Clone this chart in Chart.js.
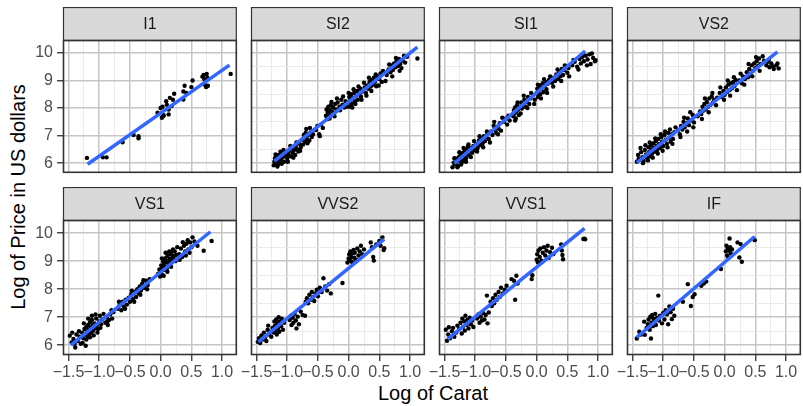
<!DOCTYPE html>
<html>
<head>
<meta charset="utf-8">
<script src="https://cdn.jsdelivr.net/npm/chart.js@4.4.1/dist/chart.umd.min.js"></script>
<style>
  body { margin: 0; width: 803px; height: 406px; background: #fff; position: relative; overflow: hidden;
         font-family: "Liberation Sans", Arial, sans-serif; }
  canvas { position: absolute; }
  .ttl { position: absolute; font-size: 20px; line-height: 20px; color: #000; white-space: nowrap; }
</style>
</head>
<body>
<div class="ttl" id="xTitle" style="left:433px;top:383px;transform:translateX(-50%)">Log of Carat</div>
<div class="ttl" id="yTitle" style="left:18px;top:197px;transform:translate(-50%,-50%) rotate(-90deg)">Log of Price in US dollars</div>
<script>
// facet labels (diamond clarity)
const clarity = ['I1', 'SI2', 'SI1', 'VS2', 'VS1', 'VVS2', 'VVS1', 'IF'];

// [log carat, log price]
const ptsI1 = [[-1.20,6.19],[-0.94,6.21],[-0.88,6.21],[-0.62,6.76],[-0.44,7.02],[-0.36,6.98],[-0.36,6.90],
  [-0.05,7.83],[0.00,8.00],[0.02,7.65],[0.04,7.70],[0.05,7.74],[0.03,8.05],[0.09,8.25],[0.10,8.12],[0.13,7.77],
  [0.15,8.37],[0.13,7.95],[0.18,8.07],[0.22,8.52],[0.20,8.30],[0.37,8.60],[0.39,8.81],[0.37,8.31],[0.42,8.55],
  [0.52,9.00],[0.50,8.76],[0.68,9.14],[0.70,9.20],[0.75,9.24],[0.72,8.85],[0.77,8.81],[0.74,8.76],[0.71,9.05],
  [0.76,9.10],[1.14,9.24]];

const ptsSI2 = [[-1.22,5.92],[-1.21,6.05],[-1.20,6.18],[-1.20,5.98],[-1.19,6.10],[-1.18,6.25],[-1.17,6.02],[-1.16,6.14],
  [-1.15,5.95],[-1.14,6.30],[-1.13,6.08],[-1.12,6.20],[-1.10,6.12],[-1.08,6.35],[-1.07,6.22],[-1.05,6.05],[-1.04,6.28],
  [-1.02,6.40],[-1.00,6.18],[-0.98,6.32],[-0.96,6.45],[-0.94,6.25],[-0.92,6.55],[-0.91,6.38],[-0.89,6.48],[-0.87,6.30],
  [-0.86,6.62],[-0.84,6.50],[-0.82,6.42],[-0.80,6.70],[-0.78,6.58],[-0.76,6.85],[-0.74,6.68],[-0.72,6.95],[-0.71,6.78],
  [-0.70,7.10],[-0.69,7.24],[-0.68,6.88],[-0.66,7.02],[-0.64,6.82],[-0.62,7.12],[-0.60,6.95],[-0.53,7.20],[-0.51,7.35],
  [-0.48,7.05],[-0.47,6.98],[-0.45,7.40],[-0.42,7.28],[-0.37,7.72],[-0.36,7.95],[-0.35,7.60],[-0.34,7.85],[-0.33,8.05],
  [-0.32,7.78],[-0.30,7.92],[-0.29,8.10],[-0.27,7.88],[-0.25,8.02],[-0.23,7.70],[-0.22,8.15],[-0.20,7.95],[-0.18,8.20],
  [-0.15,8.05],[-0.12,8.30],[-0.10,8.12],[-0.07,8.02],[-0.05,8.25],[0.00,8.20],[0.01,8.40],[0.02,8.05],[0.03,8.30],
  [0.04,8.50],[0.05,8.15],[0.07,8.38],[0.09,8.55],[0.10,8.25],[0.12,8.45],[0.14,8.62],[0.15,8.30],[0.17,8.50],[0.19,8.70],
  [0.20,8.42],[0.22,8.60],[0.26,8.75],[0.28,8.55],[0.30,8.82],[0.32,8.70],[0.34,8.95],[0.36,8.78],[0.38,9.02],[0.40,8.85],
  [0.41,9.10],[0.43,8.95],[0.45,8.79],[0.47,9.15],[0.50,9.05],[0.52,9.26],[0.54,8.95],[0.62,9.20],[0.65,9.40],[0.68,9.30],
  [0.70,9.55],[0.72,9.38],[0.74,9.62],[0.76,9.48],[0.78,9.70],[0.80,9.52],[0.82,9.78],[0.84,9.60],[0.86,9.45],[0.88,9.72],
  [0.92,9.65],[0.95,9.86],[1.12,9.80],
  [-1.19,6.32],[-1.16,5.88],[-1.11,6.42],[-1.09,5.98],[-1.06,6.48],[-0.99,6.05],[-0.95,6.62],[-0.90,6.20],[-0.85,6.75],
  [-0.79,6.45],[-0.73,7.02],[-0.67,6.72],[-0.63,7.28],[-0.58,7.05],[-0.31,7.62],[-0.28,8.22],[-0.24,7.80],[-0.19,8.35],
  [-0.14,7.92],[-0.09,8.42],[-0.03,8.05],[0.00,8.55],[0.06,8.02],[0.08,8.68],[0.11,8.15],[0.16,8.78],[0.21,8.30],
  [0.25,8.92],[0.29,8.45],[0.33,9.10],[0.37,8.62],[0.44,9.22],[0.49,8.82],[0.56,9.35],[0.60,8.98],[0.66,9.58],[0.71,9.15],
  [0.77,9.82],[0.83,9.35],[0.90,9.90]];

const ptsSI1 = [[-1.37,5.85],[-1.35,6.02],[-1.33,5.95],[-1.31,6.15],[-1.30,6.05],[-1.28,5.90],[-1.27,6.22],[-1.25,6.10],
  [-1.24,6.30],[-1.22,6.02],[-1.21,6.18],[-1.20,6.38],[-1.19,6.25],[-1.18,6.08],[-1.17,6.42],[-1.16,6.30],[-1.15,6.18],
  [-1.14,6.50],[-1.13,6.35],[-1.12,6.60],[-1.10,6.28],[-1.08,6.45],[-1.06,6.55],[-1.05,6.38],[-1.03,6.62],[-1.01,6.48],
  [-0.98,6.70],[-0.96,6.55],[-0.94,6.82],[-0.92,6.66],[-0.90,6.90],[-0.88,6.72],[-0.86,6.98],[-0.84,6.80],[-0.82,6.95],
  [-0.80,7.08],[-0.78,6.88],[-0.74,7.15],[-0.72,7.02],[-0.70,7.36],[-0.68,7.20],[-0.66,7.10],[-0.64,7.32],[-0.62,7.25],
  [-0.60,7.45],[-0.58,7.18],[-0.53,7.50],[-0.50,7.62],[-0.48,7.40],[-0.46,7.72],[-0.44,7.55],[-0.38,7.70],[-0.37,7.92],
  [-0.36,7.80],[-0.35,8.02],[-0.34,7.62],[-0.33,7.88],[-0.32,8.10],[-0.30,7.95],[-0.29,7.75],[-0.27,8.05],[-0.25,8.20],
  [-0.24,7.98],[-0.22,8.12],[-0.20,8.30],[-0.18,8.05],[-0.16,8.22],[-0.14,8.40],[-0.12,8.15],[-0.10,8.35],[-0.06,8.48],
  [-0.03,8.30],[0.00,8.55],[0.01,8.70],[0.02,8.40],[0.03,8.62],[0.05,8.82],[0.06,8.50],[0.08,8.72],[0.10,8.90],[0.11,8.58],
  [0.13,8.80],[0.15,8.95],[0.16,8.68],[0.18,8.88],[0.20,9.02],[0.25,8.92],[0.28,9.10],[0.30,8.98],[0.32,9.22],[0.35,9.05],
  [0.37,9.30],[0.39,9.15],[0.41,9.42],[0.43,9.20],[0.45,9.38],[0.48,9.50],[0.50,9.28],[0.52,9.45],[0.58,9.55],[0.62,9.68],
  [0.66,9.50],[0.70,9.78],[0.72,9.62],[0.74,9.85],[0.77,9.70],[0.80,9.90],[0.83,9.76],[0.86,9.95],[0.88,9.60],[0.92,9.82],
  [0.95,9.70],[0.96,9.74],
  [-1.34,6.18],[-1.29,5.85],[-1.26,6.40],[-1.23,5.95],[-1.19,6.55],[-1.15,6.05],[-1.11,6.68],[-1.07,6.22],[-1.02,6.80],
  [-0.97,6.42],[-0.93,6.98],[-0.87,6.58],[-0.81,7.15],[-0.76,6.75],[-0.69,7.50],[-0.63,7.05],[-0.56,7.65],[-0.35,7.55],
  [-0.31,8.20],[-0.26,7.80],[-0.21,8.45],[-0.15,8.00],[-0.09,8.55],[-0.04,8.15],[0.02,8.85],[0.07,8.35],[0.12,9.05],
  [0.17,8.55],[0.22,9.15],[0.27,8.78],[0.34,9.40],[0.40,8.98],[0.46,9.55],[0.53,9.15],[0.60,9.75],[0.68,9.40],[0.75,9.95],
  [0.82,9.55],[0.90,9.98]];

const ptsVS2 = [[-1.43,6.05],[-1.41,6.30],[-1.38,6.12],[-1.36,6.40],[-1.34,6.22],[-1.32,6.08],[-1.30,6.48],[-1.28,6.32],
  [-1.26,6.18],[-1.24,6.58],[-1.23,6.40],[-1.21,6.25],[-1.20,6.65],[-1.19,6.50],[-1.18,6.35],[-1.16,6.72],[-1.15,6.55],
  [-1.14,6.42],[-1.12,6.80],[-1.11,6.62],[-1.10,6.48],[-1.08,6.88],[-1.07,6.70],[-1.05,6.55],[-1.03,6.95],[-1.02,6.78],
  [-1.00,6.62],[-0.98,7.02],[-0.96,6.85],[-0.94,6.70],[-0.92,7.10],[-0.90,6.92],[-0.88,6.78],[-0.86,7.05],[-0.84,6.88],
  [-0.82,7.12],[-0.76,7.20],[-0.73,7.05],[-0.71,7.35],[-0.69,7.22],[-0.67,7.50],[-0.65,7.30],[-0.62,7.45],[-0.60,7.62],
  [-0.58,7.38],[-0.55,7.55],[-0.52,7.75],[-0.50,7.48],[-0.44,7.70],[-0.40,7.88],[-0.38,7.78],[-0.36,8.05],[-0.35,7.90],
  [-0.33,8.15],[-0.31,7.95],[-0.29,8.22],[-0.27,8.05],[-0.25,8.35],[-0.23,8.12],[-0.21,8.42],[-0.19,8.20],[-0.17,8.30],
  [-0.12,8.38],[-0.08,8.55],[-0.05,8.40],[-0.02,8.62],[0.00,8.48],[0.02,8.75],[0.04,8.58],[0.06,8.85],[0.08,8.65],
  [0.10,8.90],[0.12,8.72],[0.14,8.95],[0.16,8.80],[0.18,9.02],[0.24,9.00],[0.28,8.90],[0.30,9.15],[0.33,9.05],[0.36,9.30],
  [0.38,9.12],[0.40,9.42],[0.42,9.25],[0.44,9.55],[0.46,9.35],[0.48,9.62],[0.50,9.45],[0.52,9.70],[0.54,9.52],[0.56,9.80],
  [0.58,9.60],[0.64,9.72],[0.68,9.55],[0.70,9.68],[0.73,9.48],[0.76,9.62],[0.80,9.42],[0.84,9.55],[0.88,9.44],
  [-1.40,6.15],[-1.37,6.55],[-1.33,6.00],[-1.29,6.65],[-1.25,6.10],[-1.22,6.75],[-1.17,6.20],[-1.13,6.90],[-1.09,6.35],
  [-1.04,7.05],[-1.01,6.45],[-0.97,7.15],[-0.93,6.58],[-0.89,7.22],[-0.85,6.70],[-0.80,7.30],[-0.72,6.95],[-0.66,7.65],
  [-0.61,7.15],[-0.56,7.85],[-0.51,7.30],[-0.37,7.60],[-0.32,8.35],[-0.26,7.85],[-0.20,8.55],[-0.14,8.10],[-0.07,8.75],
  [-0.01,8.30],[0.05,9.00],[0.09,8.45],[0.15,9.12],[0.20,8.65],[0.26,9.25],[0.32,8.85],[0.39,9.60],[0.45,9.15],[0.51,9.85],
  [0.57,9.35],[0.62,9.88],[0.72,9.75],[0.78,9.52],[0.86,9.62]];

const ptsVS1 = [[-1.48,6.34],[-1.45,6.10],[-1.42,6.22],[-1.39,5.92],[-1.37,6.38],[-1.35,6.15],[-1.32,6.30],[-1.30,6.05],
  [-1.28,6.45],[-1.26,6.25],[-1.24,6.58],[-1.23,6.38],[-1.22,5.98],[-1.21,6.65],[-1.20,6.48],[-1.19,6.30],[-1.18,6.72],
  [-1.17,6.55],[-1.16,6.40],[-1.15,6.82],[-1.14,6.62],[-1.13,6.45],[-1.12,6.90],[-1.11,6.70],[-1.10,6.52],[-1.08,6.78],
  [-1.07,6.60],[-1.05,6.95],[-1.04,6.72],[-1.02,6.58],[-1.00,6.85],[-0.99,7.05],[-0.97,6.75],[-0.95,6.92],[-0.90,6.80],
  [-0.88,7.00],[-0.86,6.72],[-0.84,6.90],[-0.82,7.10],[-0.79,6.95],[-0.77,7.18],[-0.70,7.30],[-0.67,7.42],[-0.64,7.25],
  [-0.62,7.55],[-0.60,7.38],[-0.57,7.62],[-0.55,7.45],[-0.52,7.70],[-0.50,7.55],[-0.48,7.82],[-0.45,7.65],[-0.42,7.90],
  [-0.40,7.72],[-0.38,8.00],[-0.36,7.85],[-0.34,8.10],[-0.32,7.95],[-0.30,8.20],[-0.27,8.05],[-0.24,8.30],[-0.21,8.15],
  [-0.18,8.36],[-0.04,8.55],[-0.02,8.70],[0.00,8.62],[0.01,8.85],[0.02,8.52],[0.03,8.78],[0.04,9.00],[0.05,8.68],
  [0.06,8.92],[0.07,9.10],[0.08,8.80],[0.09,9.02],[0.10,8.72],[0.11,9.18],[0.12,8.95],[0.13,9.25],[0.14,8.88],[0.15,9.08],
  [0.17,9.30],[0.18,9.00],[0.19,9.20],[0.21,9.12],[0.23,9.35],[0.25,9.22],[0.30,9.25],[0.33,9.45],[0.35,9.15],[0.38,9.55],
  [0.40,9.35],[0.42,9.62],[0.45,9.42],[0.48,9.67],[0.50,9.50],[0.52,9.85],[0.60,9.55],[0.70,9.37],[0.83,9.72],
  [-1.44,6.45],[-1.40,6.05],[-1.33,6.50],[-1.27,6.08],[-1.25,6.78],[-1.21,6.20],[-1.18,6.95],[-1.15,6.28],[-1.12,7.05],
  [-1.09,6.35],[-1.06,7.10],[-1.03,6.45],[-0.98,6.62],[-0.93,7.12],[-0.87,6.85],[-0.80,7.25],[-0.68,7.55],[-0.58,7.30],
  [-0.47,7.95],[-0.43,7.55],[-0.33,7.80],[-0.28,8.32],[-0.22,8.00],[-0.01,8.45],[0.02,9.10],[0.05,8.48],[0.08,9.30],
  [0.11,8.62],[0.14,9.35],[0.17,8.80],[0.20,9.42],[0.24,9.00],[0.27,9.50],[0.31,9.05],[0.36,9.68],[0.41,9.20],[0.44,9.75],
  [0.47,9.30],[0.55,9.70]];

const ptsVVS2 = [[-1.48,6.12],[-1.46,6.25],[-1.44,6.08],[-1.42,6.35],[-1.40,6.20],[-1.38,6.45],[-1.36,6.28],[-1.34,6.15],
  [-1.32,6.55],[-1.31,6.70],[-1.30,6.38],[-1.28,6.48],[-1.26,6.30],[-1.24,6.62],[-1.22,6.45],[-1.21,6.85],[-1.20,6.70],
  [-1.19,6.52],[-1.18,6.92],[-1.17,6.38],[-1.16,6.78],[-1.15,6.60],[-1.14,7.00],[-1.13,6.48],[-1.12,6.85],[-1.10,6.68],
  [-1.09,6.95],[-1.07,6.55],[-1.05,6.80],[-0.96,6.90],[-0.94,7.05],[-0.93,6.72],[-0.91,6.98],[-0.90,6.80],[-0.88,7.12],
  [-0.86,6.88],[-0.85,6.60],[-0.83,7.02],[-0.81,6.75],[-0.78,7.20],[-0.75,7.08],[-0.71,7.05],[-0.70,7.55],[-0.68,7.68],
  [-0.66,7.50],[-0.64,7.80],[-0.62,7.62],[-0.60,7.90],[-0.58,7.72],[-0.56,7.58],[-0.54,7.85],[-0.52,7.98],[-0.50,7.75],
  [-0.47,8.05],[-0.44,7.90],[-0.41,8.39],[-0.38,8.10],[-0.35,7.95],[-0.32,8.18],[-0.29,7.85],[-0.10,8.22],[-0.02,8.95],
  [0.00,9.10],[0.01,9.25],[0.02,9.02],[0.03,9.35],[0.04,9.15],[0.05,8.98],[0.06,9.28],[0.08,9.40],[0.09,9.12],[0.10,9.30],
  [0.12,9.05],[0.14,9.45],[0.16,9.20],[0.18,9.35],[0.20,9.55],[0.22,9.25],[0.25,9.42],[0.36,9.67],[0.38,9.50],[0.40,9.15],
  [0.41,9.02],[0.45,9.60],[0.50,9.72],[0.52,9.55],[0.55,9.85],[0.57,9.40],[0.58,9.46]];

const ptsVVS1 = [[-1.48,6.55],[-1.46,6.16],[-1.44,6.38],[-1.43,6.64],[-1.41,6.25],[-1.38,6.50],[-1.36,6.62],[-1.34,6.30],
  [-1.31,6.45],[-1.29,6.70],[-1.26,6.58],[-1.24,6.80],[-1.22,6.42],[-1.21,6.95],[-1.20,6.65],[-1.18,6.85],[-1.17,6.52],
  [-1.16,7.05],[-1.14,6.72],[-1.13,6.90],[-1.11,6.60],[-1.09,6.98],[-1.07,6.75],[-1.05,6.88],[-1.03,6.65],[-0.97,6.95],
  [-0.95,7.10],[-0.93,6.80],[-0.91,7.02],[-0.89,6.88],[-0.87,7.15],[-0.85,6.92],[-0.83,7.08],[-0.81,7.77],[-0.80,6.78],
  [-0.78,7.17],[-0.75,7.55],[-0.73,7.40],[-0.71,7.68],[-0.69,7.50],[-0.67,7.80],[-0.65,7.62],[-0.62,7.90],[-0.60,7.72],
  [-0.58,8.05],[-0.55,7.85],[-0.52,7.98],[-0.49,8.12],[-0.41,8.36],[-0.37,8.30],[-0.35,7.62],[-0.33,8.48],[-0.31,8.20],
  [-0.08,8.36],[-0.07,8.50],[0.00,9.05],[0.01,9.25],[0.02,8.96],[0.03,9.38],[0.05,9.15],[0.06,9.45],[0.08,9.02],[0.10,9.30],
  [0.12,9.50],[0.14,9.20],[0.16,9.38],[0.18,9.55],[0.20,9.12],[0.22,9.32],[0.25,9.48],[0.27,9.25],[0.40,9.60],[0.41,9.38],
  [0.42,9.22],[0.43,9.07],[0.76,9.79],[0.78,9.80],[0.79,9.78]];

const ptsIF = [[-1.43,6.24],[-1.39,6.48],[-1.36,6.38],[-1.31,6.84],[-1.30,6.37],[-1.27,6.62],[-1.25,6.75],[-1.24,6.92],
  [-1.22,6.55],[-1.21,7.02],[-1.20,6.24],[-1.19,6.80],[-1.18,7.08],[-1.17,6.68],[-1.16,6.95],[-1.15,6.85],[-1.13,7.12],
  [-1.12,6.72],[-1.10,6.98],[-1.08,7.77],[-1.07,6.88],[-1.05,7.05],[-1.02,6.78],[-1.00,7.15],[-0.98,6.92],[-0.96,7.25],
  [-0.94,7.10],[-0.92,6.75],[-0.90,7.38],[-0.88,7.18],[-0.86,6.93],[-0.84,7.30],[-0.82,7.05],[-0.68,7.55],[-0.60,8.18],
  [-0.55,7.40],[-0.52,7.72],[-0.49,7.82],[-0.38,8.12],[-0.34,8.20],[-0.30,8.27],[-0.06,8.72],[0.02,9.35],[0.03,9.55],
  [0.04,9.20],[0.05,9.45],[0.06,9.13],[0.07,9.38],[0.08,9.81],[0.09,9.50],[0.10,9.28],[0.12,9.42],[0.21,9.67],[0.24,9.13],
  [0.26,9.61],[0.28,8.98],[0.49,9.75]];

const panelPts = [ptsI1, ptsSI2, ptsSI1, ptsVS2, ptsVS1, ptsVVS2, ptsVVS1, ptsIF];

// fitted line ends per panel (lm smooth)
const fitX = [[-1.19,1.12],[-1.21,1.12],[-1.34,0.79],[-1.43,0.86],[-1.46,0.81],[-1.47,0.58],[-1.45,0.78],[-1.43,0.49]];
const fitY = [[5.96,9.56],[6.07,10.21],[5.99,10.07],[6.02,10.04],[6.00,10.05],[6.12,9.79],[6.22,10.17],[6.28,9.88]];

// axes
const xMajor = [-1.5, -1.0, -0.5, 0.0, 0.5, 1.0];
const xMinor = [-1.25, -0.75, -0.25, 0.25, 0.75];
const yMajor = [6, 7, 8, 9, 10];
const yMinor = [6.5, 7.5, 8.5, 9.5];

const FONT = '"Liberation Sans", Arial, sans-serif';
const colLeft = [63, 251, 439, 627];
const panelW = 176, stripH = 33, plotH = 135, xAxisH = 30;
const stripTop = [7, 187];

const isMajorX = v => xMajor.includes(v);
const isMajorY = v => yMajor.includes(v);
const fmt = v => v.toFixed(1).replace('-', '\u2212');

const panelDeco = {
  id: 'panelDeco',
  afterDraw(chart) {
    const {ctx, chartArea: a} = chart;
    const label = chart.options.plugins.panelDeco.label;
    ctx.save();
    ctx.fillStyle = '#D9D9D9';
    ctx.fillRect(a.left, a.top - stripH, a.right - a.left, stripH);
    ctx.strokeStyle = '#333333';
    ctx.lineWidth = 1.2;
    ctx.strokeRect(a.left + 0.5, a.top - stripH + 0.5, a.right - a.left - 1, stripH);
    ctx.fillStyle = '#1A1A1A';
    ctx.font = '16px ' + FONT;
    ctx.textAlign = 'center';
    ctx.textBaseline = 'middle';
    ctx.fillText(label, (a.left + a.right) / 2, a.top - stripH / 2 + 1);
    ctx.lineWidth = 1.6;
    ctx.strokeRect(a.left + 0.5, a.top + 0.5, a.right - a.left - 1, a.bottom - a.top - 1);
    ctx.restore();
  }
};

clarity.forEach((name, i) => {
  const r = i < 4 ? 0 : 1, c = i % 4;
  const padL = c === 0 ? 33 : 16;
  const cv = document.createElement('canvas');
  const w = padL + panelW, h = stripH + plotH + (r === 1 ? xAxisH : 0);
  cv.width = w; cv.height = h;
  cv.style.left = (colLeft[c] - padL) + 'px';
  cv.style.top = stripTop[r] + 'px';
  cv.style.width = w + 'px'; cv.style.height = h + 'px';
  document.body.appendChild(cv);

  new Chart(cv, {
    type: 'scatter',
    data: {
      datasets: [
        { data: fitX[i].map((x, k) => ({x, y: fitY[i][k]})), showLine: true, borderColor: '#3366FF',
          borderWidth: 3.5, pointRadius: 0, fill: false },
        { data: panelPts[i].map(p => ({x: p[0], y: p[1]})), pointRadius: 2.2, backgroundColor: '#000',
          borderWidth: 0, pointHoverRadius: 2.2 }
      ]
    },
    options: {
      responsive: false, animation: false, devicePixelRatio: 1,
      layout: { padding: { left: c === 0 ? 0 : padL, top: stripH, right: 0, bottom: 0 } },
      plugins: { legend: { display: false }, tooltip: { enabled: false }, panelDeco: { label: name } },
      scales: {
        x: {
          type: 'linear', min: -1.59, max: 1.24,
          afterBuildTicks: s => { s.ticks = xMajor.concat(xMinor).sort((a, b) => a - b).map(v => ({value: v})); },
          afterFit: s => { s.height = r === 1 ? xAxisH : 0; s.paddingLeft = 0; s.paddingRight = 0; },
          border: { display: false },
          grid: {
            color: g => isMajorX(g.tick.value) ? '#C6C6C6' : '#E6E6E6',
            lineWidth: g => isMajorX(g.tick.value) ? 1.5 : 0.8,
            drawTicks: r === 1, tickLength: 6,
            tickColor: g => isMajorX(g.tick.value) ? '#333333' : 'rgba(0,0,0,0)', tickWidth: 1.3
          },
          ticks: {
            display: r === 1, autoSkip: false, maxRotation: 0, minRotation: 0, padding: 2,
            color: '#4D4D4D', font: { size: 16, family: FONT },
            callback: v => isMajorX(v) ? fmt(v) : ''
          }
        },
        y: {
          type: 'linear', min: 5.65, max: 10.47,
          afterBuildTicks: s => { s.ticks = yMajor.concat(yMinor).sort((a, b) => a - b).map(v => ({value: v})); },
          afterFit: s => { s.width = c === 0 ? padL : 0; s.paddingTop = 0; s.paddingBottom = 0; },
          border: { display: false },
          grid: {
            color: g => isMajorY(g.tick.value) ? '#C6C6C6' : '#E6E6E6',
            lineWidth: g => isMajorY(g.tick.value) ? 1.5 : 0.8,
            drawTicks: c === 0, tickLength: 6,
            tickColor: g => isMajorY(g.tick.value) ? '#333333' : 'rgba(0,0,0,0)', tickWidth: 1.3
          },
          ticks: {
            display: c === 0, padding: 4, color: '#4D4D4D', font: { size: 16, family: FONT },
            callback: v => isMajorY(v) ? String(v) : ''
          }
        }
      }
    },
    plugins: [panelDeco]
  });
});
</script>
</body>
</html>
